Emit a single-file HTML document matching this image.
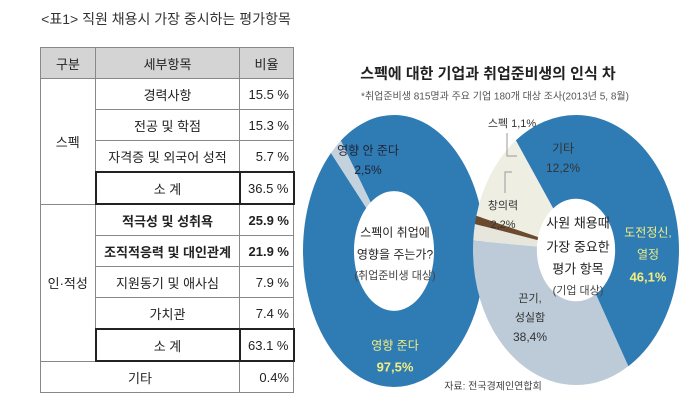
<!DOCTYPE html>
<html><head><meta charset="utf-8"><style>
body{margin:0;width:700px;height:416px;background:#fff;overflow:hidden;position:relative;font-family:"Liberation Sans","Noto Sans CJK KR",sans-serif;}
.t{position:absolute;white-space:nowrap;transform:translate(-50%,-50%);}
table{position:absolute;left:40px;top:47px;border-collapse:collapse;font-size:13px;color:#222;}
td{border:1px solid #888;height:30px;padding:0;text-align:center;}
td.r{text-align:right;padding-right:4px;}
.b{border:2px solid #222;}
</style></head><body>
<div class="t" style="left:166px;top:19px;font-size:14px;color:#333">&lt;표1&gt; 직원 채용시 가장 중시하는 평가항목</div>
<table>
<colgroup><col style="width:55px"><col style="width:144px"><col style="width:54px"></colgroup>
<tr style="background:#d4d4d4"><td>구분</td><td>세부항목</td><td>비율</td></tr>
<tr><td rowspan="4">스펙</td><td>경력사항</td><td class="r">15.5 %</td></tr>
<tr><td>전공 및 학점</td><td class="r">15.3 %</td></tr>
<tr><td>자격증 및 외국어 성적</td><td class="r">5.7 %</td></tr>
<tr><td class="b">소 계</td><td class="r b">36.5 %</td></tr>
<tr><td rowspan="5">인·적성</td><td style="font-weight:bold">적극성 및 성취욕</td><td class="r" style="font-weight:bold">25.9 %</td></tr>
<tr><td style="font-weight:bold">조직적응력 및 대인관계</td><td class="r" style="font-weight:bold">21.9 %</td></tr>
<tr><td>지원동기 및 애사심</td><td class="r">7.9 %</td></tr>
<tr><td>가치관</td><td class="r">7.4 %</td></tr>
<tr><td class="b">소 계</td><td class="r b">63.1 %</td></tr>
<tr><td colspan="2">기타</td><td class="r">0.4%</td></tr>
</table>

<svg width="700" height="416" style="position:absolute;left:0;top:0">
<g transform="translate(394,251) scale(91,136) rotate(-90)">
<circle r="0.72" fill="none" stroke="#2f7cb5" stroke-width="0.56" pathLength="100" stroke-dasharray="97.5 2.5"/>
<circle r="0.72" fill="none" stroke="#c3d2dd" stroke-width="0.56" pathLength="100" stroke-dasharray="0 97.5 2.5 0"/>
</g>
<g transform="translate(576,250) scale(103,135) rotate(-90)">
<circle r="0.69" fill="none" stroke="#2f7cb5" stroke-width="0.62" pathLength="100" stroke-dasharray="46.1 53.9"/>
<circle r="0.69" fill="none" stroke="#bccbd7" stroke-width="0.62" pathLength="100" stroke-dasharray="0 46.1 38.4 15.5"/>
<circle r="0.69" fill="none" stroke="#e6e6dc" stroke-width="0.62" pathLength="100" stroke-dasharray="0 84.5 2.2 13.3"/>
<circle r="0.69" fill="none" stroke="#6b4a2e" stroke-width="0.62" pathLength="100" stroke-dasharray="0 86.7 1.1 12.2"/>
<circle r="0.69" fill="none" stroke="#efeee3" stroke-width="0.62" pathLength="100" stroke-dasharray="0 87.8 12.2 0"/>
</g>
</svg>

<div class="t" style="left:488px;top:73px;font-size:15px;font-weight:bold;color:#222">스펙에 대한 기업과 취업준비생의 인식 차</div>
<div class="t" style="left:495px;top:95px;font-size:10px;color:#555">*취업준비생 815명과 주요 기업 180개 대상 조사(2013년 5, 8월)</div>

<div class="t" style="left:368px;top:150px;font-size:12px;color:#223">영향 안 준다</div>
<div class="t" style="left:368px;top:170px;font-size:12px;color:#223">2,5%</div>
<div class="t" style="left:395px;top:232px;font-size:12px;color:#222">스펙이 취업에</div>
<div class="t" style="left:395px;top:254px;font-size:12px;color:#222">영향을 주는가?</div>
<div class="t" style="left:395px;top:275px;font-size:11px;color:#444">(취업준비생 대상)</div>
<div class="t" style="left:395px;top:345px;font-size:12px;color:#f2ee80">영향 준다</div>
<div class="t" style="left:395px;top:367px;font-size:13px;font-weight:bold;color:#f2ee80">97,5%</div>

<div class="t" style="left:512px;top:123px;font-size:11px;color:#333">스펙 1,1%</div>
<div class="t" style="left:563px;top:148px;font-size:12px;color:#333">기타</div>
<div class="t" style="left:563px;top:168px;font-size:12px;color:#333">12,2%</div>
<div class="t" style="left:503px;top:205px;font-size:11px;color:#333">창의력</div>
<div class="t" style="left:503px;top:225px;font-size:11px;color:#333">2,2%</div>
<div class="t" style="left:578px;top:222px;font-size:13px;color:#222">사원 채용때</div>
<div class="t" style="left:578px;top:246px;font-size:13px;color:#222">가장 중요한</div>
<div class="t" style="left:578px;top:268px;font-size:13px;color:#222">평가 항목</div>
<div class="t" style="left:578px;top:290px;font-size:11px;color:#444">(기업 대상)</div>
<div class="t" style="left:648px;top:232px;font-size:12px;color:#f2ee80">도전정신,</div>
<div class="t" style="left:648px;top:254px;font-size:12px;color:#f2ee80">열정</div>
<div class="t" style="left:648px;top:277px;font-size:13px;font-weight:bold;color:#f2ee80">46,1%</div>
<div class="t" style="left:530px;top:298px;font-size:11px;color:#333">끈기,</div>
<div class="t" style="left:530px;top:317px;font-size:11px;color:#333">성실함</div>
<div class="t" style="left:530px;top:337px;font-size:12px;color:#333">38,4%</div>
<div class="t" style="left:493px;top:385px;font-size:10px;color:#444">자료: 전국경제인연합회</div>
<svg width="700" height="416" style="position:absolute;left:0;top:0">
<polyline points="507,133 507,156 517,156" fill="none" stroke="#999" stroke-width="1"/>
<polyline points="505,193 505,172 512,172" fill="none" stroke="#999" stroke-width="1"/>
</svg>
</body></html>
